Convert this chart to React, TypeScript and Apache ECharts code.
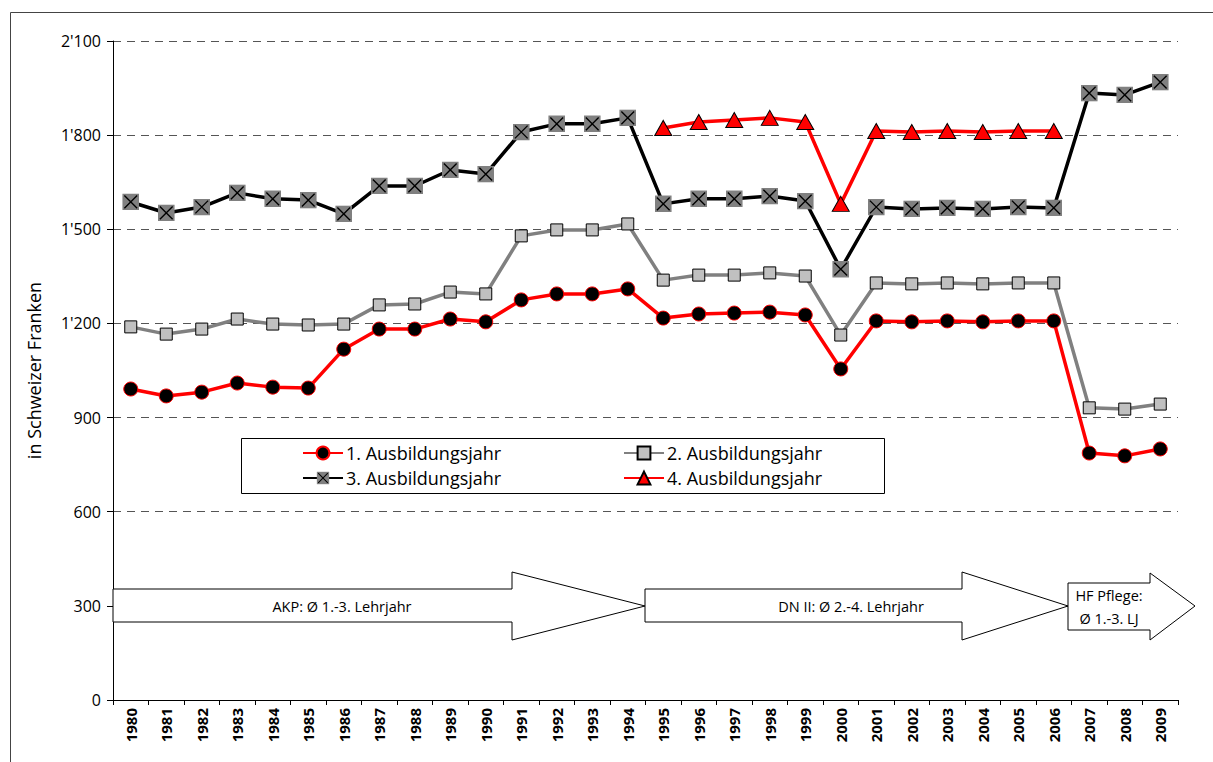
import React, { useEffect, useRef } from "react";
import * as echarts from "echarts";

const years = ["1980","1981","1982","1983","1984","1985","1986","1987","1988","1989","1990","1991","1992","1993","1994","1995","1996","1997","1998","1999","2000","2001","2002","2003","2004","2005","2006","2007","2008","2009"];

const lj1 = [991, 969, 981, 1010, 997, 994, 1118, 1182, 1182, 1214, 1205, 1275, 1294, 1294, 1310, 1217, 1230, 1233, 1236, 1227, 1055, 1208, 1205, 1208, 1205, 1208, 1208, 787, 778, 800];
const lj2 = [1189, 1166, 1182, 1214, 1198, 1195, 1198, 1259, 1262, 1300, 1294, 1479, 1498, 1498, 1517, 1338, 1354, 1354, 1361, 1351, 1163, 1329, 1326, 1329, 1326, 1329, 1329, 931, 927, 943];
const lj3 = [1587, 1552, 1571, 1616, 1597, 1593, 1549, 1638, 1638, 1689, 1676, 1810, 1836, 1836, 1855, 1581, 1597, 1597, 1606, 1590, 1373, 1571, 1565, 1568, 1565, 1571, 1568, 1934, 1928, 1969];
const lj4 = [null, null, null, null, null, null, null, null, null, null, null, null, null, null, null, 1823, 1842, 1848, 1855, 1842, 1581, 1813, 1810, 1813, 1810, 1813, 1813, null, null, null];

const seriesNames = ["1. Ausbildungsjahr", "2. Ausbildungsjahr", "3. Ausbildungsjahr", "4. Ausbildungsjahr"];
const yTicks = { min: 0, max: 2100, interval: 300 };

const FONT = "'Open Sans', 'Noto Sans', sans-serif";

const xSquareSvg =
  "<svg xmlns='http://www.w3.org/2000/svg' width='32' height='32' viewBox='0 0 32 32'><rect x='0' y='0' width='32' height='32' fill='#808080'/><path d='M4,4L28,28M28,4L4,28' stroke='#000' stroke-width='2.6'/></svg>";
const xSquareSymbol = "image://data:image/svg+xml;charset=utf-8," + encodeURIComponent(xSquareSvg);

function fmt(v: number) {
  const s = String(Math.round(v));
  return s.length > 3 ? s.slice(0, s.length - 3) + "'" + s.slice(s.length - 3) : s;
}

function arrow(points: number[][], z = 5) {
  return {
    type: "polygon",
    z,
    shape: { points },
    style: { fill: "#fff", stroke: "#000", lineWidth: 1 },
  };
}

const legendText = { fontSize: 18, lineHeight: 20, color: "#000", fontFamily: FONT, padding: [0, 0, 0, -2] };
const noteText = { fontSize: 14.5, fill: "#000", fontFamily: FONT, align: "center", verticalAlign: "middle" };

export default function App() {
  const ref = useRef<HTMLDivElement>(null);
  useEffect(() => {
    if (!ref.current) return;
    const chart = echarts.init(ref.current, undefined, { renderer: "svg" });
    const option: any = {
      animation: false,
      backgroundColor: "#fff",
      textStyle: { fontFamily: FONT },
      grid: { left: 113, right: 35, top: 41, bottom: 62, containLabel: false },
      xAxis: {
        type: "category",
        data: years,
        boundaryGap: true,
        axisLine: { lineStyle: { color: "#000", width: 1 } },
        axisTick: { show: true, length: 5, lineStyle: { color: "#000" } },
        axisLabel: {
          rotate: 90,
          interval: 0,
          fontSize: 15,
          fontWeight: "bold",
          color: "#000",
          fontFamily: FONT,
          margin: 8,
        },
        splitLine: { show: false },
      },
      yAxis: {
        type: "value",
        min: yTicks.min,
        max: yTicks.max,
        interval: yTicks.interval,
        name: "in Schweizer Franken",
        nameLocation: "middle",
        nameRotate: 90,
        nameGap: 70,
        nameTextStyle: { fontSize: 18, color: "#000", fontFamily: FONT },
        axisLine: { show: true, lineStyle: { color: "#000", width: 1 } },
        axisTick: { show: true, length: 6, lineStyle: { color: "#000" } },
        axisLabel: {
          formatter: (v: number) => fmt(v),
          fontSize: 16,
          color: "#000",
          fontFamily: FONT,
          margin: 12,
        },
        splitLine: {
          show: true,
          lineStyle: { color: "#555", type: [8, 6], width: 1 },
        },
      },
      legend: [
        {
          data: [seriesNames[0], seriesNames[2]],
          orient: "vertical",
          left: 302,
          top: 443,
          itemWidth: 40,
          itemHeight: 16,
          itemGap: 5,
          textStyle: legendText,
          selectedMode: false,
          padding: 0,
        },
        {
          data: [seriesNames[1], seriesNames[3]],
          orient: "vertical",
          left: 623,
          top: 443,
          itemWidth: 40,
          itemHeight: 16,
          itemGap: 5,
          textStyle: legendText,
          selectedMode: false,
          padding: 0,
        },
      ],
      series: [
        {
          name: seriesNames[1],
          type: "line",
          data: lj2,
          z: 2,
          symbol: "rect",
          symbolSize: 12,
          lineStyle: { color: "#808080", width: 3.5 },
          itemStyle: { color: "#c0c0c0", borderColor: "#000", borderWidth: 1 },
        },
        {
          name: seriesNames[0],
          type: "line",
          data: lj1,
          z: 3,
          symbol: "circle",
          symbolSize: 14,
          lineStyle: { color: "#ff0000", width: 3.5 },
          itemStyle: { color: "#000", borderColor: "#ff0000", borderWidth: 1 },
        },
        {
          name: seriesNames[2],
          type: "line",
          data: lj3,
          z: 4,
          symbol: xSquareSymbol,
          symbolSize: 17,
          lineStyle: { color: "#000", width: 3.5 },
          itemStyle: { color: "#808080" },
        },
        {
          name: seriesNames[3],
          type: "line",
          data: lj4,
          z: 5,
          connectNulls: false,
          symbol: "triangle",
          symbolSize: [17, 15],
          lineStyle: { color: "#ff0000", width: 3.5 },
          itemStyle: { color: "#ff0000", borderColor: "#000", borderWidth: 1 },
        },
      ],
      graphic: [
        {
          type: "rect",
          z: 1,
          shape: { x: 10.5, y: 12.5, width: 1400, height: 900 },
          style: { fill: "none", stroke: "#444", lineWidth: 1 },
        },
        {
          type: "rect",
          z: 3,
          shape: { x: 241.5, y: 438.5, width: 643, height: 55 },
          style: { fill: "#fff", stroke: "#000", lineWidth: 1 },
        },
        arrow([[113, 589], [512, 589], [512, 572], [645, 606], [512, 640], [512, 622], [113, 622]]),
        arrow([[645, 589], [962, 589], [962, 572], [1068, 606], [962, 640], [962, 622], [645, 622]]),
        arrow([[1068, 583], [1150, 583], [1150, 573], [1195, 606], [1150, 640], [1150, 630], [1068, 630]]),
        { type: "text", z: 6, x: 342, y: 606, style: { ...noteText, text: "AKP: Ø 1.-3. Lehrjahr" } },
        { type: "text", z: 6, x: 851, y: 606, style: { ...noteText, text: "DN II: Ø 2.-4. Lehrjahr" } },
        { type: "text", z: 6, x: 1109, y: 595, style: { ...noteText, text: "HF Pflege:" } },
        { type: "text", z: 6, x: 1109, y: 618, style: { ...noteText, text: "Ø 1.-3. LJ" } },
      ],
    };
    chart.setOption(option);
    return () => chart.dispose();
  }, []);
  return (
    <div
      ref={ref}
      style={{ position: "fixed", left: 0, top: 0, width: 1213, height: 762, background: "#fff" }}
    />
  );
}
